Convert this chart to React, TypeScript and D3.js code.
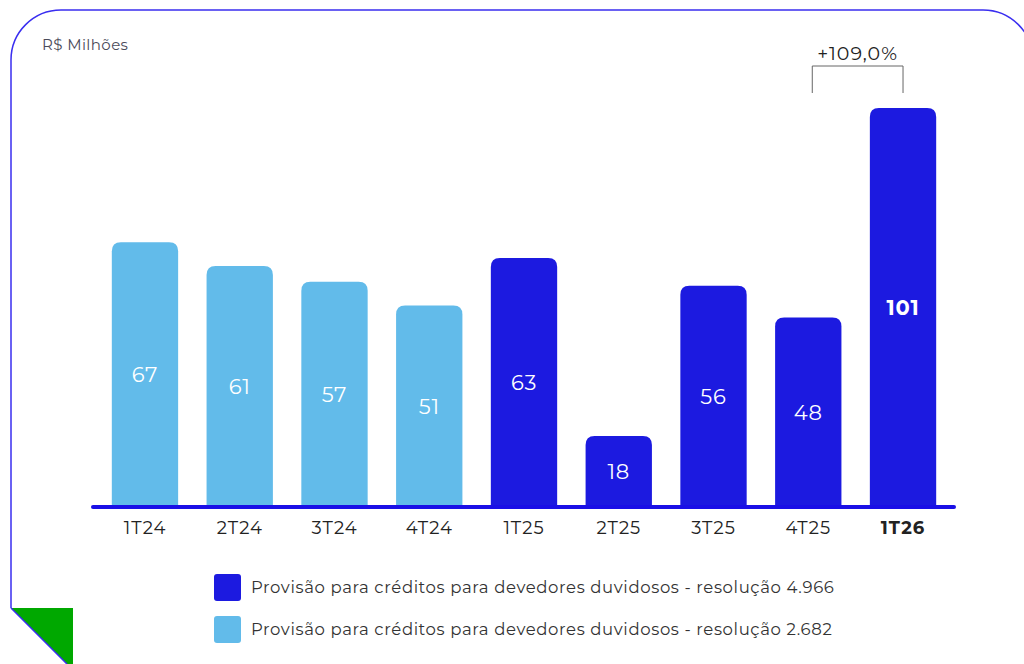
import React from "react";
import * as d3 from "d3";

const categories = ["1T24", "2T24", "3T24", "4T24", "1T25", "2T25", "3T25", "4T25", "1T26"];
const values = [67, 61, 57, 51, 63, 18, 56, 48, 101];
const series = ["2.682", "2.682", "2.682", "2.682", "4.966", "4.966", "4.966", "4.966", "4.966"];
const legendItems = [
  { key: "4.966", label: "Provisão para créditos para devedores duvidosos - resolução 4.966" },
  { key: "2.682", label: "Provisão para créditos para devedores duvidosos - resolução 2.682" },
];
const unitLabel = "R$ Milhões";
const growthLabel = "+109,0%";

const DARK = "#1c1ae0";
const LIGHT = "#62bbea";
const FONT = "Montserrat, 'Open Sans', sans-serif";

export default function App() {
  const W = 1024, H = 664;
  const x = d3.scaleBand().domain(categories).range([97.6, 950.4]).paddingInner(0.3).paddingOuter(0.15);
  const y = d3.scaleLinear().domain([0, 101]).range([507, 108]);
  const color = d3.scaleOrdinal<string, string>().domain(["4.966", "2.682"]).range([DARK, LIGHT]);
  const bw = x.bandwidth();
  const r = 9;
  const barPath = (x0: number, y0: number, w: number, y1: number) =>
    `M${x0},${y1}V${y0 + r}Q${x0},${y0} ${x0 + r},${y0}H${x0 + w - r}Q${x0 + w},${y0} ${x0 + w},${y0 + r}V${y1}Z`;
  const last = categories.length - 1;
  const bx1 = x(categories[last - 1])! + bw / 2 + 4;
  const bx2 = x(categories[last])! + bw / 2;
  return (
    <svg width={W} height={H} style={{ position: "fixed", left: 0, top: 0 }} fontFamily={FONT}>
      <rect width={W} height={H} fill="#fff" />
      <path d="M11,608V60A50,50 0 0 1 61,10H983A50,50 0 0 1 1033,60" fill="none" stroke="#3a2ef0" strokeWidth={1.5} />
      <path d="M11,608H73V670Z" fill="#00a800" />
      <path d="M11,608L67,664" stroke="#3a2ef0" strokeWidth={1.5} />
      <text x={42} y={50} fontSize={15} letterSpacing={0.4} fill="#4a4a5a">{unitLabel}</text>
      {categories.map((c, i) => {
        const x0 = x(c)!;
        const top = y(values[i]);
        return (
          <g key={c}>
            <path d={barPath(x0, top, bw, 507)} fill={color(series[i])} />
            <text x={x0 + bw / 2} y={(top + 507) / 2} dy="0.35em" textAnchor="middle" fill="#fff"
              fontSize={21} letterSpacing={0.8} fontWeight={i === last ? 700 : 400}>{values[i]}</text>
            <text x={x0 + bw / 2} y={528} dy="0.35em" textAnchor="middle" fill="#222"
              fontSize={18} letterSpacing={0.9} fontWeight={i === last ? 700 : 400}>{c}</text>
          </g>
        );
      })}
      <line x1={93} x2={954} y1={507} y2={507} stroke="#1a10e6" strokeWidth={4} strokeLinecap="round" />
      <path d={`M${bx1},93V66H${bx2}V93`} fill="none" stroke="#666" strokeWidth={1} />
      <text x={(bx1 + bx2) / 2} y={53} dy="0.35em" textAnchor="middle" fontSize={19} letterSpacing={1} fill="#222">{growthLabel}</text>
      {legendItems.map((l, i) => (
        <g key={l.key} transform={`translate(214,${574 + i * 42})`}>
          <rect width={27} height={27} rx={3} fill={color(l.key)} />
          <text x={37} y={13.5} dy="0.35em" fontSize={16.5} letterSpacing={0.62} fill="#333">{l.label}</text>
        </g>
      ))}
    </svg>
  );
}
